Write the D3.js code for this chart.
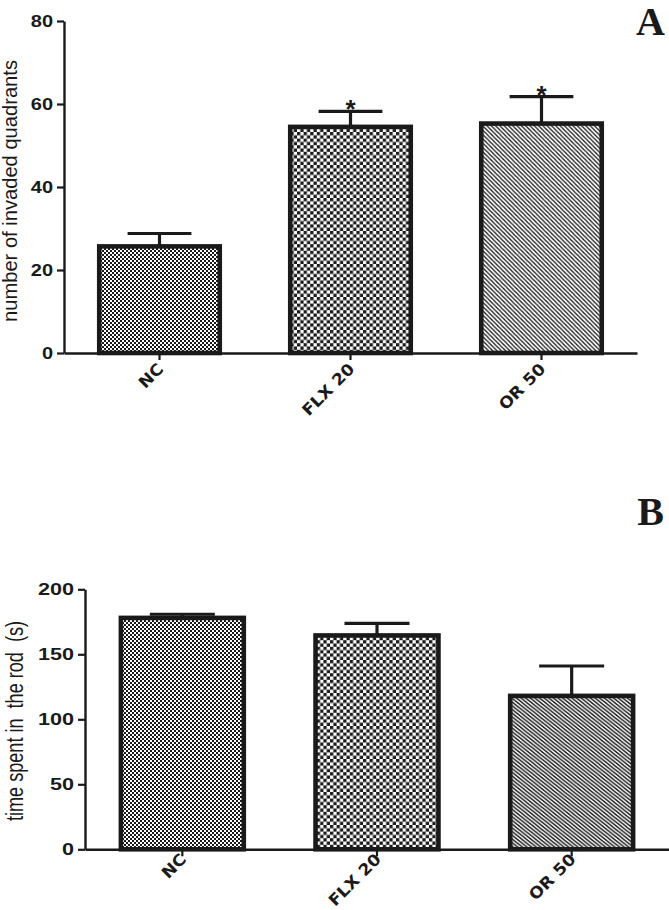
<!DOCTYPE html>
<html>
<head>
<meta charset="utf-8">
<script src="https://cdn.jsdelivr.net/npm/d3@7"></script>
<style>
  html, body { margin: 0; padding: 0; background: #fff; }
  svg { display: block; }
</style>
</head>
<body>
<svg id="chart" width="669" height="910"></svg>
<script>
// ---------- data ----------
const categories = ["NC", "FLX 20", "OR 50"];
const quadrantMeans = [26, 54.8, 55.6];
const quadrantSEM = [2.8, 3.4, 6.2];
const quadrantSig = ["", "*", "*"];
const quadrantTicks = [0, 20, 40, 60, 80];
const rodMeans = [179, 165.5, 119];
const rodSEM = [1.8, 8.3, 22];
const rodSig = ["", "", ""];
const rodTicks = [0, 50, 100, 150, 200];

const INK = "#1a1a1a";
const svg = d3.select("#chart");

// ---------- patterns ----------
const defs = svg.append("defs");
function checker(id, c) {
  const p = defs.append("pattern").attr("id", id)
    .attr("patternUnits", "userSpaceOnUse")
    .attr("width", 2 * c).attr("height", 2 * c);
  p.append("rect").attr("width", 2 * c).attr("height", 2 * c).attr("fill", "#fff");
  p.append("rect").attr("width", c).attr("height", c).attr("fill", INK);
  p.append("rect").attr("x", c).attr("y", c).attr("width", c).attr("height", c).attr("fill", INK);
}
function hatch(id, s, sx) {
  const p = defs.append("pattern").attr("id", id)
    .attr("patternUnits", "userSpaceOnUse")
    .attr("width", s).attr("height", s)
    .attr("patternTransform", `scale(${sx},1)`);
  p.append("rect").attr("width", s).attr("height", s).attr("fill", "#fff");
  p.append("path")
    .attr("d", `M0,0L${s},${s}M${-1},${s - 1}L1,${s + 1}M${s - 1},-1L${s + 1},1`)
    .attr("stroke", INK).attr("stroke-width", 1.3);
}
checker("fineCheck", 2);
checker("coarseCheck", 3.3);
hatch("hatchA", 4.3, 1);
hatch("hatchB", 3.7, 1.25);

// ---------- panel drawing ----------
function panel(cfg) {
  const g = svg.append("g");
  const x = d3.scaleBand().domain(categories)
    .range([cfg.x0, cfg.x1]).paddingInner(0.345).paddingOuter(0.1725);
  const y = d3.scaleLinear().domain([0, d3.max(cfg.ticks)]).range([cfg.yBottom, cfg.yTop]);
  const sw = 4.6;
  const bw = x.bandwidth();

  // bars
  g.selectAll("rect.bar").data(categories).enter().append("rect")
    .attr("class", "bar")
    .attr("x", d => x(d) + sw / 2)
    .attr("width", bw - sw)
    .attr("y", (d, i) => y(cfg.means[i]) + sw / 2 - 1)
    .attr("height", (d, i) => y(0) - y(cfg.means[i]) - sw / 2 + 1)
    .attr("fill", (d, i) => `url(#${cfg.patterns[i]})`)
    .attr("stroke", INK).attr("stroke-width", sw);

  // error bars (upper only)
  const capW = bw * 0.51;
  categories.forEach((c, i) => {
    const cx = x(c) + bw / 2;
    const top = y(cfg.means[i] + cfg.sem[i]);
    g.append("line").attr("x1", cx).attr("x2", cx)
      .attr("y1", y(cfg.means[i])).attr("y2", top)
      .attr("stroke", INK).attr("stroke-width", 3.2);
    g.append("line").attr("x1", cx - capW / 2).attr("x2", cx + capW / 2)
      .attr("y1", top).attr("y2", top)
      .attr("stroke", INK).attr("stroke-width", 3.2);
    if (cfg.sig[i]) {
      g.append("text").attr("x", cx).attr("y", top + 7)
        .attr("text-anchor", "middle")
        .style("font-family", "Liberation Sans, Arial, sans-serif")
        .style("font-size", "26px").style("font-weight", "bold")
        .attr("fill", INK).text(cfg.sig[i]);
    }
  });

  // y axis
  const ya = g.append("g").attr("transform", `translate(${cfg.x0},0)`)
    .call(d3.axisLeft(y).tickValues(cfg.ticks).tickSize(7).tickSizeOuter(0).tickPadding(4));
  ya.select(".domain").attr("stroke", INK).attr("stroke-width", 2.4);
  ya.selectAll(".tick line").attr("stroke", INK).attr("stroke-width", 2.2);
  ya.selectAll(".tick text")
    .style("font-family", "Liberation Sans, Arial, sans-serif")
    .style("font-size", "16px").style("font-weight", "bold")
    .attr("fill", INK)
    .each(function () {
      const L = this.getComputedTextLength();
      d3.select(this).attr("textLength", L * cfg.stretch).attr("lengthAdjust", "spacingAndGlyphs");
    });

  // x axis
  const xa = g.append("g").attr("transform", `translate(0,${cfg.yBottom})`)
    .call(d3.axisBottom(x).tickSize(7).tickSizeOuter(0));
  xa.select(".domain").attr("stroke", INK).attr("stroke-width", 2.4);
  xa.selectAll(".tick line").attr("stroke", INK).attr("stroke-width", 2.2);
  xa.selectAll(".tick text")
    .attr("x", 0).attr("y", 0).attr("dy", 0)
    .attr("transform", `translate(5,${cfg.labelDrop}) rotate(-45)`)
    .attr("text-anchor", "end")
    .style("font-family", "DejaVu Sans, sans-serif")
    .style("font-size", "16px").style("font-weight", "bold")
    .attr("fill", INK)
    .each(function () {
      const L = this.getComputedTextLength();
      d3.select(this).attr("textLength", L * 1.08).attr("lengthAdjust", "spacingAndGlyphs");
    });

  // y title
  const t = g.append("text")
    .attr("transform", `translate(${cfg.titleX},${cfg.titleY}) scale(${cfg.titleStretch},1) rotate(-90)`)
    .attr("text-anchor", "middle")
    .style("font-family", "Liberation Sans, Arial, sans-serif")
    .style("font-size", cfg.titleSize + "px")
    .style("white-space", "pre")
    .attr("fill", INK)
    .text(cfg.title);
  t.attr("textLength", cfg.titleLen).attr("lengthAdjust", "spacingAndGlyphs");

  // panel letter
  g.append("text").attr("x", cfg.letterX).attr("y", cfg.letterY)
    .attr("text-anchor", "end")
    .style("font-family", "Liberation Serif, Times New Roman, serif")
    .style("font-size", "40px").style("font-weight", "bold")
    .attr("fill", INK).text(cfg.letter);
}

panel({
  x0: 64, x1: 637, yTop: 21, yBottom: 353, stretch: 1.25, labelDrop: 17,
  patterns: ["fineCheck", "coarseCheck", "hatchA"],
  means: quadrantMeans, sem: quadrantSEM, sig: quadrantSig, ticks: quadrantTicks,
  title: "number of invaded quadrants", titleX: 17, titleY: 191, titleSize: 20, titleLen: 262, titleStretch: 1,
  letter: "A", letterX: 665, letterY: 35
});
panel({
  x0: 85, x1: 669, yTop: 589.3, yBottom: 849.3, stretch: 1.35, labelDrop: 11,
  patterns: ["fineCheck", "coarseCheck", "hatchB"],
  means: rodMeans, sem: rodSEM, sig: rodSig, ticks: rodTicks,
  title: "time spent in  the rod  (s)", titleX: 23, titleY: 721, titleSize: 17.5, titleLen: 200, titleStretch: 1.35,
  letter: "B", letterX: 664, letterY: 525
});
</script>
</body>
</html>
